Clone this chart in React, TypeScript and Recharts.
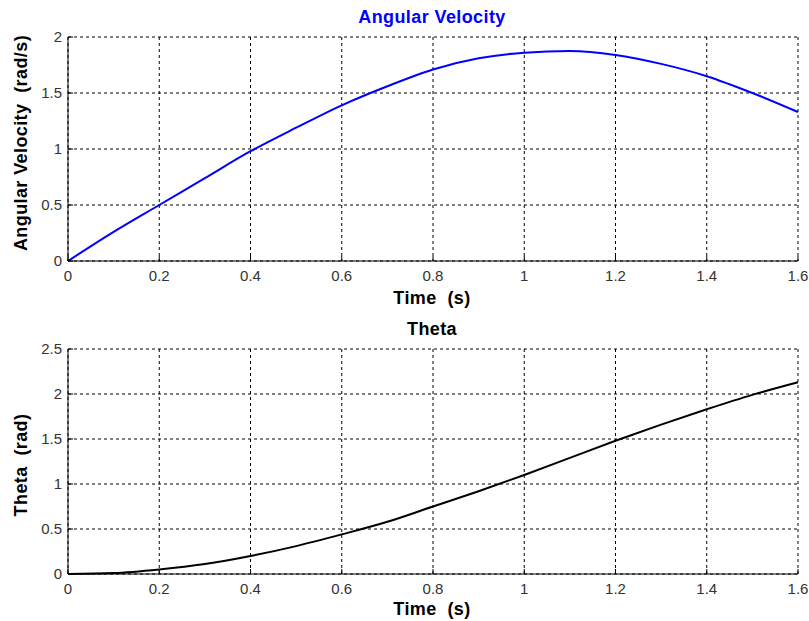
import { LineChart, Line, XAxis, YAxis, CartesianGrid } from 'recharts'

// sampled response, 0.1 s steps
const time = [0, 0.1, 0.2, 0.3, 0.4, 0.5, 0.6, 0.7, 0.8, 0.9, 1.0, 1.1, 1.2, 1.3, 1.4, 1.5, 1.6]
const omega = [0, 0.26, 0.5, 0.74, 0.98, 1.19, 1.39, 1.56, 1.71, 1.81, 1.86, 1.875, 1.84, 1.76, 1.65, 1.5, 1.33]
const theta = [0, 0.01, 0.05, 0.11, 0.2, 0.31, 0.44, 0.58, 0.75, 0.92, 1.1, 1.29, 1.48, 1.66, 1.83, 1.99, 2.13]

const timeTicks = [0, 0.2, 0.4, 0.6, 0.8, 1, 1.2, 1.4, 1.6]
const omegaTicks = [0, 0.5, 1, 1.5, 2]
const thetaTicks = [0, 0.5, 1, 1.5, 2, 2.5]

const rows = time.map((t, i) => ({ t, omega: omega[i], theta: theta[i] }))

const FONT = '"Liberation Sans", Arial, Helvetica, sans-serif'
const TICK_LEN = 5
const X_GAP = 8
const Y_GAP = 6

// matlab-style ticks: label outside, short mark pointing into the plot
function BottomTick({ x, y, payload }: any) {
  const axisY = y - X_GAP
  return (
    <g>
      <line x1={x} y1={axisY} x2={x} y2={axisY - TICK_LEN} stroke="#000" />
      <text x={x} y={y + 12} textAnchor="middle" fontSize={15} fill="#333" fontFamily={FONT}>
        {payload.value}
      </text>
    </g>
  )
}

function LeftTick({ x, y, payload }: any) {
  const axisX = x + Y_GAP
  return (
    <g>
      <line x1={axisX} y1={y} x2={axisX + TICK_LEN} y2={y} stroke="#000" />
      <text x={x} y={y + 5} textAnchor="end" fontSize={15} fill="#333" fontFamily={FONT}>
        {payload.value}
      </text>
    </g>
  )
}

function TopTick({ x, y }: any) {
  return <line x1={x} y1={y} x2={x} y2={y + TICK_LEN} stroke="#000" />
}

function RightTick({ x, y }: any) {
  return <line x1={x} y1={y} x2={x - TICK_LEN} y2={y} stroke="#000" />
}

interface PanelProps {
  dataKey: string
  color: string
  yTicks: number[]
  top: number
  height: number
  marginTop: number
  xAxisHeight: number
}

function Panel({ dataKey, color, yTicks, top, height, marginTop, xAxisHeight }: PanelProps) {
  const yMax = yTicks[yTicks.length - 1]
  return (
    <div style={{ position: 'absolute', left: 0, top }}>
      <LineChart width={809} height={height} data={rows} margin={{ top: marginTop, right: 11, bottom: 0, left: 0 }}>
        <CartesianGrid stroke="#000" strokeDasharray="3 3" />
        <XAxis
          dataKey="t"
          type="number"
          domain={[0, 1.6]}
          ticks={timeTicks}
          height={xAxisHeight}
          tickSize={0}
          tickLine={false}
          tickMargin={X_GAP}
          axisLine={{ stroke: '#000' }}
          tick={<BottomTick />}
          interval={0}
        />
        <XAxis
          xAxisId="top"
          orientation="top"
          dataKey="t"
          type="number"
          domain={[0, 1.6]}
          ticks={timeTicks}
          height={0}
          tickSize={0}
          tickLine={false}
          tickMargin={0}
          axisLine={{ stroke: '#000' }}
          tick={<TopTick />}
          interval={0}
        />
        <YAxis
          type="number"
          domain={[0, yMax]}
          ticks={yTicks}
          width={68}
          tickSize={0}
          tickLine={false}
          tickMargin={Y_GAP}
          axisLine={{ stroke: '#000' }}
          tick={<LeftTick />}
          interval={0}
        />
        <YAxis
          yAxisId="right"
          orientation="right"
          type="number"
          domain={[0, yMax]}
          ticks={yTicks}
          width={0}
          tickSize={0}
          tickLine={false}
          tickMargin={0}
          axisLine={{ stroke: '#000' }}
          tick={<RightTick />}
          interval={0}
        />
        <Line
          type="monotone"
          dataKey={dataKey}
          stroke={color}
          strokeWidth={2}
          dot={false}
          isAnimationActive={false}
        />
      </LineChart>
    </div>
  )
}

const labelStyle = {
  fontFamily: FONT,
  fontSize: 18,
  fontWeight: 'bold' as const,
  letterSpacing: 0.4,
  whiteSpace: 'pre' as const,
}

export default function App() {
  return (
    <div style={{ position: 'absolute', left: 0, top: 0, width: 809, height: 621, background: '#fff', overflow: 'hidden' }}>
      <Panel dataKey="omega" color="#0000ff" yTicks={omegaTicks} top={0} height={310} marginTop={37} xAxisHeight={49} />
      <Panel dataKey="theta" color="#000000" yTicks={thetaTicks} top={310} height={311} marginTop={39} xAxisHeight={47} />
      <svg width={809} height={621} style={{ position: 'absolute', left: 0, top: 0, pointerEvents: 'none' }}>
        <text x={432} y={23} textAnchor="middle" fill="#0000ff" style={labelStyle}>Angular Velocity</text>
        <text x={432} y={304} textAnchor="middle" fill="#000" style={labelStyle}>Time  (s)</text>
        <text x={27} y={143} textAnchor="middle" fill="#000" transform="rotate(-90 27 143)" style={labelStyle}>
          Angular Velocity  (rad/s)
        </text>
        <text x={432} y={335} textAnchor="middle" fill="#000" style={labelStyle}>Theta</text>
        <text x={432} y={615} textAnchor="middle" fill="#000" style={labelStyle}>Time  (s)</text>
        <text x={27} y={465} textAnchor="middle" fill="#000" transform="rotate(-90 27 465)" style={labelStyle}>
          Theta  (rad)
        </text>
      </svg>
    </div>
  )
}
